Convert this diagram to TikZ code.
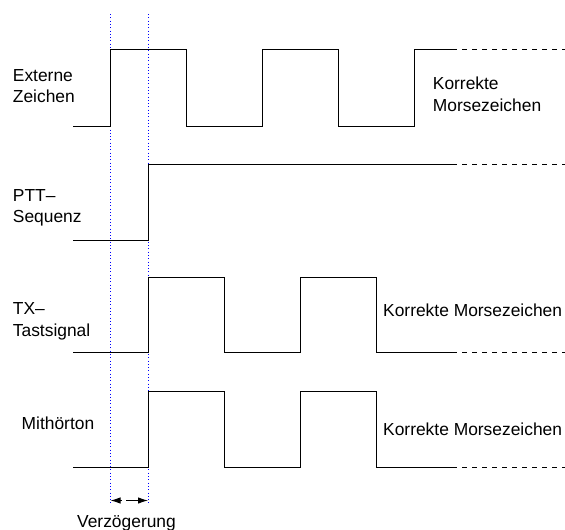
\documentclass[tikz,border=0pt]{standalone}
\usepackage{fontspec}
\setmainfont{Liberation Sans}
\usetikzlibrary{arrows.meta}
\begin{document}
\begin{tikzpicture}[x=1pt,y=-1pt,
  sig/.style={line width=0.85pt, black},
  ext/.style={line width=0.85pt, black, dash pattern=on 5pt off 5pt},
  guide/.style={blue, line width=1pt, dash pattern=on 1pt off 2.3pt},
  lbl/.style={anchor=north west, inner sep=0pt, align=left, font=\fontsize{17.4}{21.5}\selectfont},
  dim/.style={-{Latex[length=10pt,width=6.5pt]}, line width=1pt}]
\useasboundingbox (0,0) rectangle (565,530);
% guide lines
\coordinate (g1t) at (110.5,14); \coordinate (g1b) at (110.5,503);
\coordinate (g2t) at (148,14);   \coordinate (g2b) at (148,503);
\draw[guide] (g1t) -- (g1b);
\draw[guide] (g2t) -- (g2b);
% signal 1: Externe Zeichen
\draw[sig] (73,126) -- (110.5,126) -- (110.5,49) -- (186,49) -- (186,126) -- (262,126)
  -- (262,49) -- (338,49) -- (338,126) -- (414,126) -- (414,49) -- (452,49);
\draw[ext] (452,49) -- (565,49);
% signal 2: PTT
\draw[sig] (73,240) -- (148,240) -- (148,164) -- (452,164);
\draw[ext] (452,164) -- (565,164);
% signal 3: TX
\draw[sig] (73,352) -- (148,352) -- (148,277) -- (224,277) -- (224,352) -- (300,352)
  -- (300,277) -- (376,277) -- (376,352) -- (452,352);
\draw[ext] (452,352) -- (565,352);
% signal 4: Mithoerton
\draw[sig] (73,467) -- (148,467) -- (148,391) -- (224,391) -- (224,467) -- (300,467)
  -- (300,391) -- (376,391) -- (376,467) -- (452,467);
\draw[ext] (452,467) -- (565,467);
% delay arrows
\coordinate (dl) at (122,500.5); \coordinate (dr) at (126,500.5);
\draw[dim] (dl) -- (g1b |- dl);
\draw[dim] (dr) -- (g2b |- dr);
% labels
\node[lbl] (l1) at (12.7,69.3) {Externe\\Zeichen};
\node[lbl] (l2) at (12.7,189) {PTT–\\Sequenz};
\node[lbl] (l3) at (12.7,302.7) {TX–\\Tastsignal};
\node[lbl] (l4) at (21.5,417) {Mithörton};
\node[lbl] (r1) at (432.7,76.7) {Korrekte\\Morsezeichen};
\node[lbl] (r3) at (383,303.3) {Korrekte Morsezeichen};
\node[lbl] (r4) at (383,423) {Korrekte Morsezeichen};
\node[lbl, anchor=north] (dv) at (126.5,515) {Verzögerung};
\end{tikzpicture}
\end{document}
